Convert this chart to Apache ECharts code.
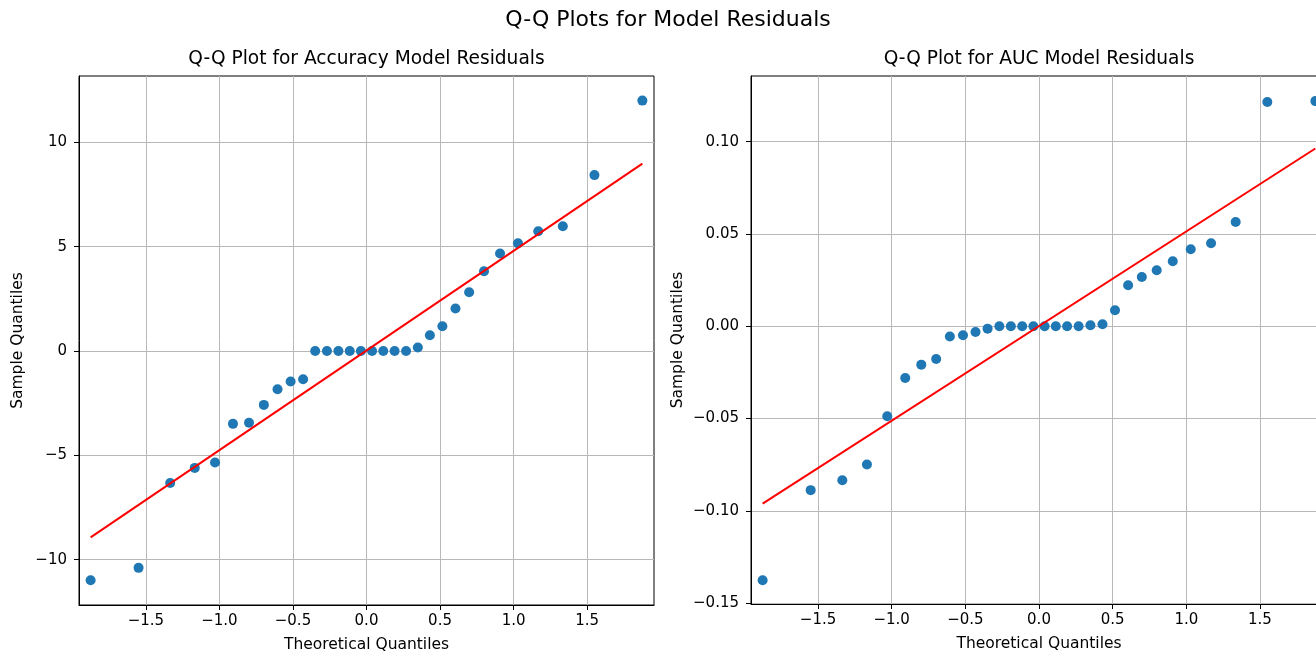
<!DOCTYPE html>
<html>
<head>
<meta charset="utf-8">
<script src="https://cdn.jsdelivr.net/npm/echarts@6/dist/echarts.min.js"></script>
<style>
html,body{margin:0;padding:0;background:#fff;overflow:hidden;}
#chart{width:1316px;height:652px;}
</style>
</head>
<body>
<div id="chart"></div>
<script>
// ---- data ----
const theoretical = [-1.876,-1.550,-1.335,-1.168,-1.030,-0.908,-0.799,-0.698,-0.605,-0.516,-0.431,-0.349,-0.269,-0.191,-0.114,-0.038,
                     0.038,0.114,0.191,0.269,0.349,0.431,0.516,0.605,0.698,0.799,0.908,1.030,1.168,1.335,1.550,1.876];
const accuracyResid = [-10.98,-10.39,-6.32,-5.60,-5.34,-3.49,-3.44,-2.58,-1.83,-1.46,-1.35,0,0,0,0,0,
                       0,0,0,0,0.17,0.76,1.19,2.04,2.82,3.82,4.67,5.16,5.74,5.98,8.43,12.0];
const aucResid = [-0.1376,-0.0888,-0.0834,-0.0749,-0.0488,-0.0280,-0.0208,-0.0177,-0.0056,-0.0049,-0.0031,-0.0013,0,0,0,0,
                  0,0,0,0,0.0005,0.0011,0.0087,0.0222,0.0267,0.0303,0.0352,0.0417,0.0450,0.0565,0.1215,0.1220];
const lineX = [-1.876, 1.876];
const accuracyLineY = [-8.93, 8.98];
const aucLineY = [-0.0961, 0.0963];
const xTicks = [-1.5,-1.0,-0.5,0.0,0.5,1.0,1.5];
const accYTicks = [-10,-5,0,5,10];
const aucYTicks = [-0.15,-0.10,-0.05,0.00,0.05,0.10];
const suptitle = 'Q-Q Plots for Model Residuals';
const titles = ['Q-Q Plot for Accuracy Model Residuals','Q-Q Plot for AUC Model Residuals'];
const xName = 'Theoretical Quantiles';
const yName = 'Sample Quantiles';

const FONT = 'DejaVu Sans';
const TICK_FS = 15;
const NAME_FS = 15.5;
const minus = s => s.replace('-', '\u2212');
const pairs = (xs, ys) => xs.map((x, i) => [x, ys[i]]);

function xAxisCfg(gi) {
  return {
    type: 'value', gridIndex: gi, min: -1.955, max: 1.955,
    name: xName, nameLocation: 'middle', nameGap: 32,
    nameTextStyle: {fontFamily: FONT, fontSize: NAME_FS, color: '#000'},
    axisLine: {show: true, onZero: false, lineStyle: {color: '#000', width: 1}},
    axisTick: {show: true, length: 5, inside: false, customValues: xTicks, lineStyle: {color: '#000'}},
    axisLabel: {customValues: xTicks, margin: 9, fontFamily: FONT, fontSize: TICK_FS, color: '#000',
                formatter: v => minus(Number(v).toFixed(1))},
    splitLine: {show: true, lineStyle: {color: '#b8b8b8', width: 1}}
  };
}
function yAxisCfg(gi, min, max, ticks, dec, gap) {
  return {
    type: 'value', gridIndex: gi, min: min, max: max,
    name: yName, nameLocation: 'middle', nameGap: gap, nameRotate: 90,
    nameTextStyle: {fontFamily: FONT, fontSize: NAME_FS, color: '#000'},
    axisLine: {show: true, onZero: false, lineStyle: {color: '#000', width: 1}},
    axisTick: {show: true, length: 5, inside: false, customValues: ticks, lineStyle: {color: '#000'}},
    axisLabel: {customValues: ticks, margin: 12, fontFamily: FONT, fontSize: TICK_FS, color: '#000',
                formatter: v => minus(Number(v).toFixed(dec))},
    splitLine: {show: true, lineStyle: {color: '#b8b8b8', width: 1}}
  };
}

const chart = echarts.init(document.getElementById('chart'), null, {renderer: 'canvas'});
chart.setOption({
  animation: false,
  backgroundColor: '#fff',
  textStyle: {fontFamily: FONT},
  graphic: [
    {type: 'text', x: 668, y: 20, style: {text: suptitle, font: '22px "DejaVu Sans"', fill: '#000', align: 'center', verticalAlign: 'middle'}},
    {type: 'text', x: 366.5, y: 59.5, style: {text: titles[0], font: '18.6px "DejaVu Sans"', fill: '#000', align: 'center', verticalAlign: 'middle'}},
    {type: 'text', x: 1039, y: 59.5, style: {text: titles[1], font: '18.6px "DejaVu Sans"', fill: '#000', align: 'center', verticalAlign: 'middle'}}
  ],
  grid: [
    {left: 79, top: 76, width: 575, height: 529, show: true, borderColor: '#000', borderWidth: 1,
     backgroundColor: 'transparent', containLabel: false, outerBoundsMode: 'none'},
    {left: 751, top: 76, width: 576, height: 528, show: true, borderColor: '#000', borderWidth: 1,
     backgroundColor: 'transparent', containLabel: false, outerBoundsMode: 'none'}
  ],
  xAxis: [xAxisCfg(0), xAxisCfg(1)],
  yAxis: [
    yAxisCfg(0, -12.17, 13.18, accYTicks, 0, 53),
    yAxisCfg(1, -0.1505, 0.1356, aucYTicks, 2, 65)
  ],
  series: [
    {type: 'scatter', xAxisIndex: 0, yAxisIndex: 0, data: pairs(theoretical, accuracyResid),
     symbol: 'circle', symbolSize: 10, itemStyle: {color: '#1f77b4', opacity: 1}, z: 2},
    {type: 'line', xAxisIndex: 0, yAxisIndex: 0, data: pairs(lineX, accuracyLineY),
     symbol: 'none', lineStyle: {color: '#ff0000', width: 2}, z: 3},
    {type: 'scatter', xAxisIndex: 1, yAxisIndex: 1, data: pairs(theoretical, aucResid),
     symbol: 'circle', symbolSize: 10, itemStyle: {color: '#1f77b4', opacity: 1}, z: 2},
    {type: 'line', xAxisIndex: 1, yAxisIndex: 1, data: pairs(lineX, aucLineY),
     symbol: 'none', lineStyle: {color: '#ff0000', width: 2}, z: 3}
  ]
});
</script>
</body>
</html>
